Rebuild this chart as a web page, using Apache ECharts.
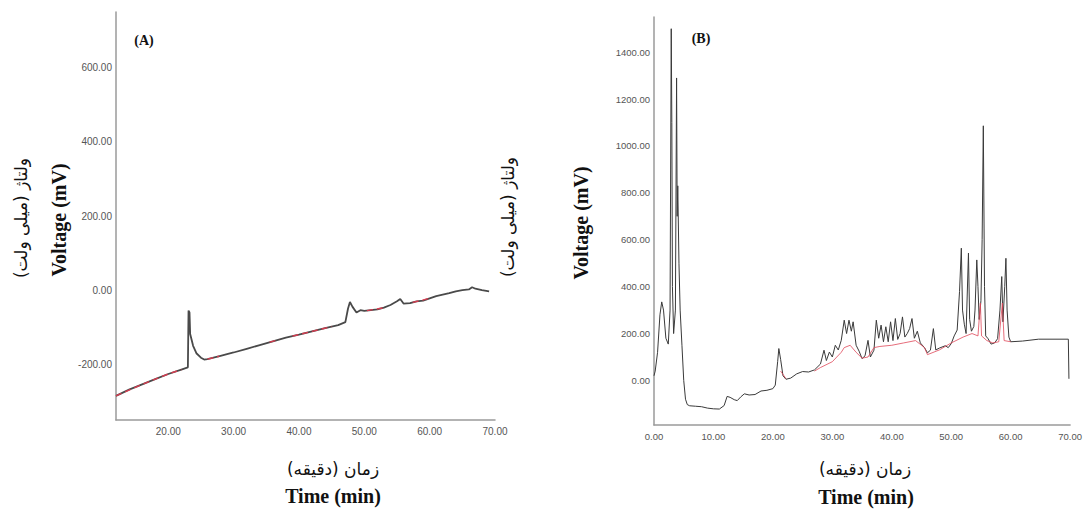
<!DOCTYPE html>
<html>
<head>
<meta charset="utf-8">
<script src="https://cdn.jsdelivr.net/npm/echarts@6/dist/echarts.min.js"></script>
<style>html,body{margin:0;padding:0;background:#fff}#c{width:1085px;height:511px}</style>
</head>
<body>
<div id="c"></div>
<script>
// ---- Data ----
const xTicksA = [20, 30, 40, 50, 60, 70];
const yTicksA = [-200, 0, 200, 400, 600];
const xTicksB = [0, 10, 20, 30, 40, 50, 60, 70];
const yTicksB = [0, 200, 400, 600, 800, 1000, 1200, 1400];

// Chromatogram A: [time (min), voltage (mV)]
const pointsA = [
  [12,-285],[14,-268],[16,-254],[18,-240],[20,-226],[22,-214],[23,-208],
  [23.1,-55],[23.25,-60],[23.35,-118],[23.8,-150],[24.3,-170],[25,-182],[25.5,-187],
  [26,-186],[28,-177],[30,-168],[32,-158],[34,-148],[36,-138],[38,-128],[40,-120],
  [42,-111],[44,-102],[46,-94],[47.1,-86],[47.5,-50],[47.8,-32],[48.2,-45],[48.8,-60],
  [49.4,-54],[50,-56],[51,-54],[52,-52],[53,-47],[54,-40],[55,-30],[55.5,-24],[56,-36],
  [57,-35],[58,-30],[59,-28],[60,-22],[61,-16],[62,-12],[63,-8],[64,-3],[65,0],[66,2],
  [66.5,8],[67,4],[68,0],[69.1,-3]
];
// Red (integration baseline) segments of A, null separates segments
const redA = [
  [12,-285],[16,-254],[20,-226],[22,-214],null,
  [26,-186],[27.8,-178],null,
  [35.5,-140],[37,-133],null,
  [39,-124],[42,-111],[45,-98],null,
  [50.4,-55],[52.8,-48],null,
  [57.4,-33],[60,-22]
];

// Chromatogram B: [time (min), voltage (mV)]
const pointsB = [
  [0,20],[0.2,40],[0.6,120],[1.0,280],[1.3,335],[1.6,300],[2.0,180],[2.4,155],[2.7,300],
  [2.9,1500],[3.0,1100],[3.1,400],[3.3,200],[3.6,300],[3.8,1290],[3.9,700],[4.0,830],
  [4.2,500],[4.4,300],[4.7,150],[5.0,0],[5.3,-80],[5.6,-103],[6,-108],[7,-110],[8,-112],
  [9,-118],[10,-121],[11,-122],[11.8,-107],[12.3,-68],[12.8,-72],[13.5,-82],[14,-86],
  [14.6,-70],[15.2,-57],[16,-62],[17,-60],[18,-45],[19,-42],[20,-35],[20.4,-20],[20.8,80],
  [21.0,136],[21.3,90],[21.7,20],[22.2,5],[23,10],[24,28],[25,38],[26,36],[27,45],[28,70],
  [28.6,129],[29,85],[29.5,121],[30,100],[30.5,150],[31,130],[31.5,171],[32,257],[32.4,200],
  [32.8,257],[33.2,210],[33.5,250],[34,150],[34.5,125],[35,93],[35.5,105],[36,171],[36.4,100],
  [37,129],[37.4,257],[37.8,180],[38.2,236],[38.6,165],[39,229],[39.4,165],[39.8,250],
  [40.2,170],[40.6,264],[41,175],[41.4,200],[41.8,271],[42.2,185],[42.6,200],[43,221],
  [43.4,264],[43.8,180],[44.3,210],[44.8,160],[45.5,140],[46,118],[46.5,129],[47,221],
  [47.4,130],[48,138],[49,148],[49.5,140],[50,157],[50.5,190],[51.0,215],[51.4,380],
  [51.7,564],[51.9,300],[52.2,240],[52.5,200],[52.9,543],[53.1,260],[53.4,210],[53.8,230],
  [54.0,300],[54.3,514],[54.5,400],[54.7,260],[55.0,340],[55.2,600],[55.4,1086],[55.6,400],
  [55.8,190],[56.2,178],[56.7,155],[57.3,160],[57.8,178],[58.2,300],[58.5,443],[58.7,250],
  [59.0,400],[59.2,521],[59.4,300],[59.7,185],[60,165],[62,168],[64.7,176],[69.7,176],[69.8,7]
];
// Red baseline segments of B
const redB = [
  [21.3,40],[22.2,8],null,
  [27,40],[28,55],[30,80],[31.5,120],[32,140],[33,150],[34,120],[35,95],[36,100],[37,140],
  [38,145],[40,150],[42,160],[44,170],[45.5,140],[46,110],[48,130],[50,160],[52,185],
  [53.5,200],[54.5,190],[54.9,330],[55.1,190],[56,170],[57,160],[58,165],[58.6,330],
  [58.9,170],[60,165]
];

const labelsAX = xTicksA.map(v => v.toFixed(2));
const labelsAY = yTicksA.map(v => v.toFixed(2));
const labelsBX = xTicksB.map(v => v.toFixed(2));
const labelsBY = yTicksB.map(v => v.toFixed(2));

const axisColor = '#9a9a9a';
const tickFont = {color: '#555', fontSize: 10, fontFamily: 'Liberation Sans'};
const RLM = '\u200F';
const faY = RLM + 'ولتاژ (میلی ولت)' + RLM;
const faX = RLM + 'زمان (دقیقه)' + RLM;

function txt(text, x, y, size, opts) {
  opts = opts || {};
  return {
    type: 'text', x: x, y: y, rotation: opts.rot || 0,
    style: {
      text: text, fill: '#111', textAlign: 'center', textVerticalAlign: 'middle',
      font: (opts.bold ? 'bold ' : '') + size + 'px ' + (opts.family || '"Liberation Serif", serif')
    }
  };
}

const chart = echarts.init(document.getElementById('c'), null, {renderer: 'svg'});
chart.setOption({
  backgroundColor: '#fff',
  animation: false,
  grid: [
    {left: 116, right: 590, top: 12, bottom: 91},
    {left: 654, right: 13, top: 17, bottom: 86}
  ],
  xAxis: [
    {type: 'value', gridIndex: 0, min: 12, max: 70,
     axisLine: {show: true, onZero: false, lineStyle: {color: axisColor, width: 1.5}},
     axisTick: {show: false}, splitLine: {show: false},
     axisLabel: Object.assign({customValues: xTicksA, margin: 6,
       formatter: v => labelsAX[xTicksA.indexOf(v)]}, tickFont)},
    {type: 'value', gridIndex: 1, min: 0, max: 70,
     axisLine: {show: true, onZero: false, lineStyle: {color: axisColor, width: 1.5}},
     axisTick: {show: false}, splitLine: {show: false},
     axisLabel: Object.assign({customValues: xTicksB, margin: 6,
       formatter: v => labelsBX[xTicksB.indexOf(v)]}, tickFont, {fontSize: 9.5})}
  ],
  yAxis: [
    {type: 'value', gridIndex: 0, min: -350, max: 750,
     axisLine: {show: true, onZero: false, lineStyle: {color: axisColor, width: 1.5}},
     axisTick: {show: false}, splitLine: {show: false},
     axisLabel: Object.assign({customValues: yTicksA, margin: 4,
       formatter: v => labelsAY[yTicksA.indexOf(v)]}, tickFont)},
    {type: 'value', gridIndex: 1, min: -190, max: 1550,
     axisLine: {show: true, onZero: false, lineStyle: {color: axisColor, width: 1.5}},
     axisTick: {show: false}, splitLine: {show: false},
     axisLabel: Object.assign({customValues: yTicksB, margin: 4,
       formatter: v => labelsBY[yTicksB.indexOf(v)]}, tickFont, {fontSize: 9.5})}
  ],
  series: [
    {type: 'line', xAxisIndex: 0, yAxisIndex: 0, data: pointsA, showSymbol: false,
     lineStyle: {color: '#4a4a4a', width: 1.8}},
    {type: 'line', xAxisIndex: 0, yAxisIndex: 0, data: redA, showSymbol: false, connectNulls: false,
     lineStyle: {color: '#e63a50', width: 1.4, opacity: 0.9, type: [6, 4]}},
    {type: 'line', xAxisIndex: 1, yAxisIndex: 1, data: pointsB, showSymbol: false,
     lineStyle: {color: '#3a3a3a', width: 1}},
    {type: 'line', xAxisIndex: 1, yAxisIndex: 1, data: redB, showSymbol: false, connectNulls: false,
     lineStyle: {color: '#e0485a', width: 1, opacity: 0.8}}
  ],
  graphic: [
    txt('(A)', 144, 40, 14, {bold: true}),
    txt('(B)', 701, 38, 14, {bold: true}),
    txt('Voltage (mV)', 59, 220, 20, {bold: true, rot: Math.PI / 2}),
    txt(faY, 21, 218, 17, {rot: Math.PI / 2, family: '"DejaVu Sans", sans-serif'}),
    txt('Voltage (mV)', 581, 223, 20, {bold: true, rot: Math.PI / 2}),
    txt(faY, 508, 217, 17, {rot: Math.PI / 2, family: '"DejaVu Sans", sans-serif'}),
    txt(faX, 333, 469, 17, {family: '"DejaVu Sans", sans-serif'}),
    txt('Time (min)', 333, 496, 20, {bold: true}),
    txt(faX, 865, 469, 17, {family: '"DejaVu Sans", sans-serif'}),
    txt('Time (min)', 866, 497, 20, {bold: true})
  ]
});
</script>
</body>
</html>
